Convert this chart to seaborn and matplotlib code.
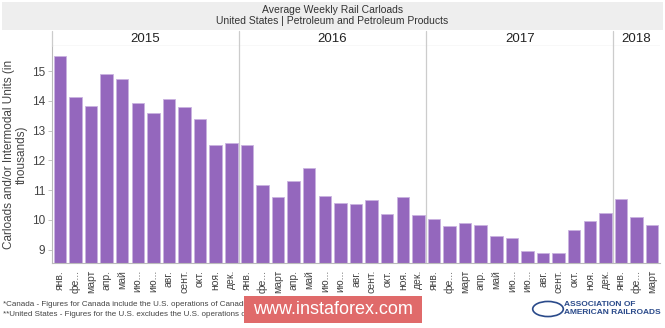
import matplotlib
matplotlib.use("Agg")
import matplotlib.pyplot as plt
import seaborn as sns
import pandas as pd
from matplotlib.patches import Rectangle, Circle

years = ["2015", "2016", "2017", "2018"]
months_per_year = [12, 12, 12, 3]
month_labels = ["янв.", "фе...", "март", "апр.", "май", "ию...", "ию...",
                "авг.", "сент.", "окт.", "ноя.", "дек."]
values_2015 = [15.52, 14.11, 13.82, 14.90, 14.74, 13.93, 13.58, 14.05, 13.78, 13.39, 12.50, 12.57]
values_2016 = [12.50, 11.17, 10.78, 11.29, 11.74, 10.80, 10.57, 10.54, 10.67, 10.19, 10.76, 10.17]
values_2017 = [10.04, 9.79, 9.90, 9.81, 9.45, 9.39, 8.94, 8.87, 8.87, 9.67, 9.97, 10.24]
values_2018 = [10.70, 10.09, 9.81]

all_values = values_2015 + values_2016 + values_2017 + values_2018
labels = []
year_col = []
for y, n in zip(years, months_per_year):
    labels += month_labels[:n]
    year_col += [y] * n
df = pd.DataFrame({"idx": list(range(len(all_values))), "value": all_values,
                   "month": labels, "year": year_col})

sns.set_theme(style="white")
plt.rcParams["font.family"] = ["Liberation Sans", "DejaVu Sans"]

fig = plt.figure(figsize=(6.65, 3.28), dpi=100)
W, H = 665, 328

def fx(px): return px / W
def fy(py): return 1 - py / H

left, right, top, bottom = 52, 660, 46, 263
ax = fig.add_axes([fx(left), fy(bottom), fx(right - left), fy(top) - fy(bottom)])
purple = "#9467bd"
sns.barplot(data=df, x="idx", y="value", color=purple, saturation=1, width=0.8,
            edgecolor="#c9b3e0", linewidth=0.6, ax=ax)
ax.set_xlim(-0.5, len(all_values) - 0.5)
ax.set_ylim(8.55, 15.84)
ax.set_yticks(range(9, 16))
ax.set_yticklabels([str(v) for v in range(9, 16)], fontsize=8.5, color="#444444")
ax.set_xticks(range(len(all_values)))
ax.set_xticklabels(labels, rotation=90, fontsize=7.5, color="#444444")
ax.tick_params(axis="x", length=3, width=0.6, color="#bbbbbb", pad=2)
ax.tick_params(axis="y", length=3, width=0.6, color="#bbbbbb", pad=2, left=True)
ax.set_xlabel("")
ax.set_ylabel("Carloads and/or Intermodal Units (in\nthousands)", fontsize=8.5,
              color="#444444", linespacing=1.1, labelpad=3)
for s in ["top", "right"]:
    ax.spines[s].set_visible(False)
for s in ["left", "bottom"]:
    ax.spines[s].set_color("#bbbbbb")
    ax.spines[s].set_linewidth(0.8)

# year separators
bounds = [0]
for n in months_per_year:
    bounds.append(bounds[-1] + n)
for b in bounds[1:-1]:
    ax.axvline(b - 0.5, color="#cccccc", linewidth=0.9, zorder=0)

# header strip with years
hax = fig.add_axes([fx(left), fy(top), fx(right - left), fy(31) - fy(top)], sharex=ax)
hax.set_ylim(0, 1)
hax.axis("off")
hax.axhline(0, color="#cccccc", linewidth=0.9)
for i, y in enumerate(years):
    s, e = bounds[i] - 0.5, bounds[i + 1] - 0.5
    hax.text((s + e) / 2, 0.45, y, ha="center", va="center", fontsize=9.5, color="#222222")
for b in bounds[:-1]:
    hax.plot([b - 0.5, b - 0.5], [0, 1], color="#cccccc", linewidth=0.9, clip_on=False)

# title band
fig.patches.append(Rectangle((fx(2), fy(30)), fx(661), fy(2) - fy(30), transform=fig.transFigure,
                             facecolor="#eeeeee", edgecolor="none", zorder=0))
fig.text(0.5, fy(10), "Average Weekly Rail Carloads", ha="center", va="center",
         fontsize=7.5, color="#333333")
fig.text(0.5, fy(21), "United States | Petroleum and Petroleum Products", ha="center",
         va="center", fontsize=7.5, color="#333333")

# footnotes
fig.text(fx(3), fy(305), "*Canada - Figures for Canada include the U.S. operations of Canadian railroads",
         fontsize=5.8, color="#444444", va="center")
fig.text(fx(3), fy(315), "**United States - Figures for the U.S. excludes the U.S. operations of Canadian railroads",
         fontsize=5.8, color="#444444", va="center")

# watermark
fig.patches.append(Rectangle((fx(244), fy(323)), fx(178), fy(296) - fy(323), transform=fig.transFigure,
                             facecolor="#e06a6a", edgecolor="none", zorder=5))
fig.text(fx(333), fy(310), "www.instaforex.com", ha="center", va="center",
         fontsize=13, color="white", zorder=6)

# logo
fig.patches.append(Circle((fx(548), fy(309)), 0.023, transform=fig.transFigure,
                          facecolor="none", edgecolor="#2a4a8a", linewidth=1.2))
fig.text(fx(564), fy(304), "ASSOCIATION OF", fontsize=6, color="#2a4a8a",
         va="center", fontweight="bold")
fig.text(fx(564), fy(313), "AMERICAN RAILROADS", fontsize=6, color="#2a4a8a",
         va="center", fontweight="bold")

fig.savefig("out.png", dpi=100)
